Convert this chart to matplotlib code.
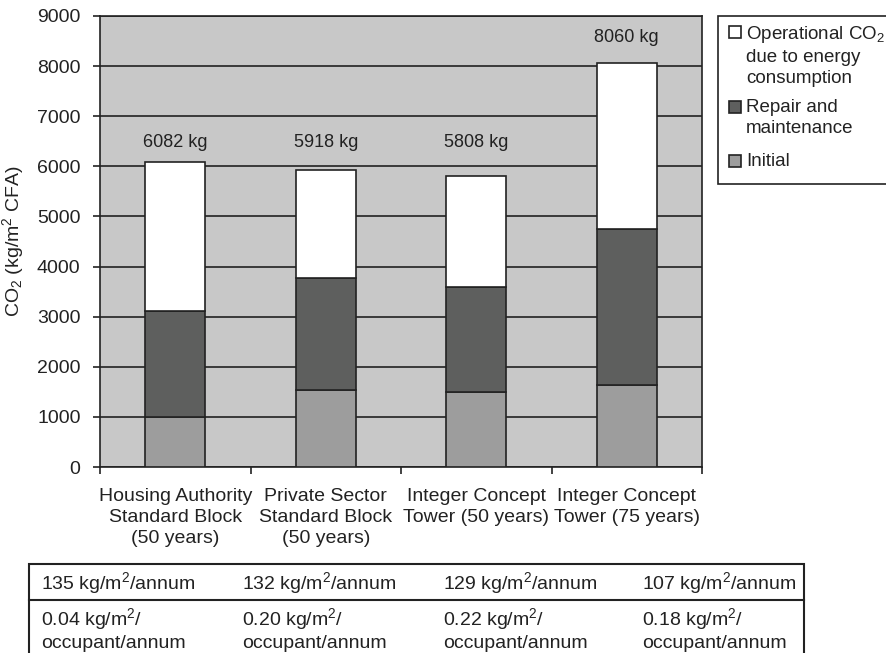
import numpy as np
import matplotlib
matplotlib.use("Agg")
import matplotlib.pyplot as plt
from matplotlib.patches import Rectangle

plt.rcParams['font.family'] = ['Liberation Sans', 'DejaVu Sans']
plt.rcParams['mathtext.default'] = 'regular'

# data
categories = ["Housing Authority\nStandard Block\n(50 years)",
              "Private Sector\nStandard Block\n(50 years)",
              "Integer Concept\nTower (50 years)",
              "Integer Concept\nTower (75 years)"]
initial = np.array([1000, 1540, 1500, 1640])
repair = np.array([2110, 2230, 2090, 3110])
totals = np.array([6082, 5918, 5808, 8060])
operational = totals - initial - repair
total_labels = ["6082 kg", "5918 kg", "5808 kg", "8060 kg"]
annual = ["135 kg/m$^2$/annum", "132 kg/m$^2$/annum",
          "129 kg/m$^2$/annum", "107 kg/m$^2$/annum"]
per_occ = ["0.04 kg/m$^2$/\noccupant/annum", "0.20 kg/m$^2$/\noccupant/annum",
           "0.22 kg/m$^2$/\noccupant/annum", "0.18 kg/m$^2$/\noccupant/annum"]
legend_names = ["Operational CO$_2$\ndue to energy\nconsumption", "Repair and\nmaintenance", "Initial"]
legend_colors = ['white', '#5e5f5e', '#9d9d9d']

FS = 14
ink = '#222222'
W, H = 886, 653
fig = plt.figure(figsize=(W / 100, H / 100), dpi=100)
ax = fig.add_axes([100 / W, 1 - 467 / H, 602 / W, 451 / H])
ax.set_facecolor('#c8c8c8')

x = np.arange(len(categories))
bw = 0.4
ax.bar(x, initial, bw, color=legend_colors[2], edgecolor=ink, linewidth=1.2, zorder=3)
ax.bar(x, repair, bw, bottom=initial, color=legend_colors[1], edgecolor=ink, linewidth=1.2, zorder=3)
ax.bar(x, operational, bw, bottom=initial + repair, color=legend_colors[0], edgecolor=ink, linewidth=1.2, zorder=3)

# the tallest bar gets its label just above, the others share one level
label_y = np.where(totals == totals.max(), totals + 520, 6470)
for i in range(len(x)):
    ax.text(x[i], label_y[i], total_labels[i], ha='center', va='center', fontsize=13, color=ink)

ax.set_xlim(-0.5, len(x) - 0.5)
ax.set_ylim(0, 9000)
ax.set_yticks(np.arange(0, 9001, 1000))
ax.yaxis.grid(True, color=ink, linewidth=1.2, zorder=1)
ax.set_axisbelow(True)
ax.set_xticks(x)
ax.set_xticklabels(categories, fontsize=FS, color=ink, linespacing=1.33)
ax.set_xticks(np.arange(-0.5, len(x), 1), minor=True)
ax.tick_params(axis='x', which='major', length=0, pad=15)
ax.tick_params(axis='x', which='minor', length=5, width=1.2, color=ink)
ax.tick_params(axis='y', length=5, width=1.2, pad=9, labelsize=FS, color=ink, labelcolor=ink)
for s in ax.spines.values():
    s.set_color(ink)
    s.set_linewidth(1.2)
ax.set_ylabel("CO$_2$ (kg/m$^2$ CFA)", fontsize=FS, color=ink)
ax.yaxis.set_label_coords(-74 / 602, 0.5)

# overlay in pixel coordinates for the legend box and the table
ov = fig.add_axes([0, 0, 1, 1], facecolor='none')
ov.set_xlim(0, W)
ov.set_ylim(H, 0)
ov.axis('off')

ov.add_patch(Rectangle((718, 16), 200, 168, facecolor='white', edgecolor=ink, linewidth=1.2))
entry_y = [32, 107, 161]
for i in range(len(legend_names)):
    ov.add_patch(Rectangle((729, entry_y[i] - 6), 12, 12, facecolor=legend_colors[i], edgecolor=ink, linewidth=1.2))
    ov.text(746, entry_y[i] - 8, legend_names[i], ha='left', va='top', fontsize=13.5, color=ink,
            linespacing=1.3)

ov.plot([29, 29, 804, 804], [653, 564, 564, 653], color=ink, linewidth=1.5, solid_joinstyle='miter')
ov.plot([29, 804], [600, 600], color=ink, linewidth=1.5)
col_x = [41, 242, 443, 642]
for i in range(len(col_x)):
    ov.text(col_x[i], 583, annual[i], ha='left', va='center', fontsize=FS, color=ink)
    ov.text(col_x[i], 629, per_occ[i], ha='left', va='center', fontsize=FS, color=ink,
            linespacing=1.2)

fig.savefig("out.png", dpi=100)
